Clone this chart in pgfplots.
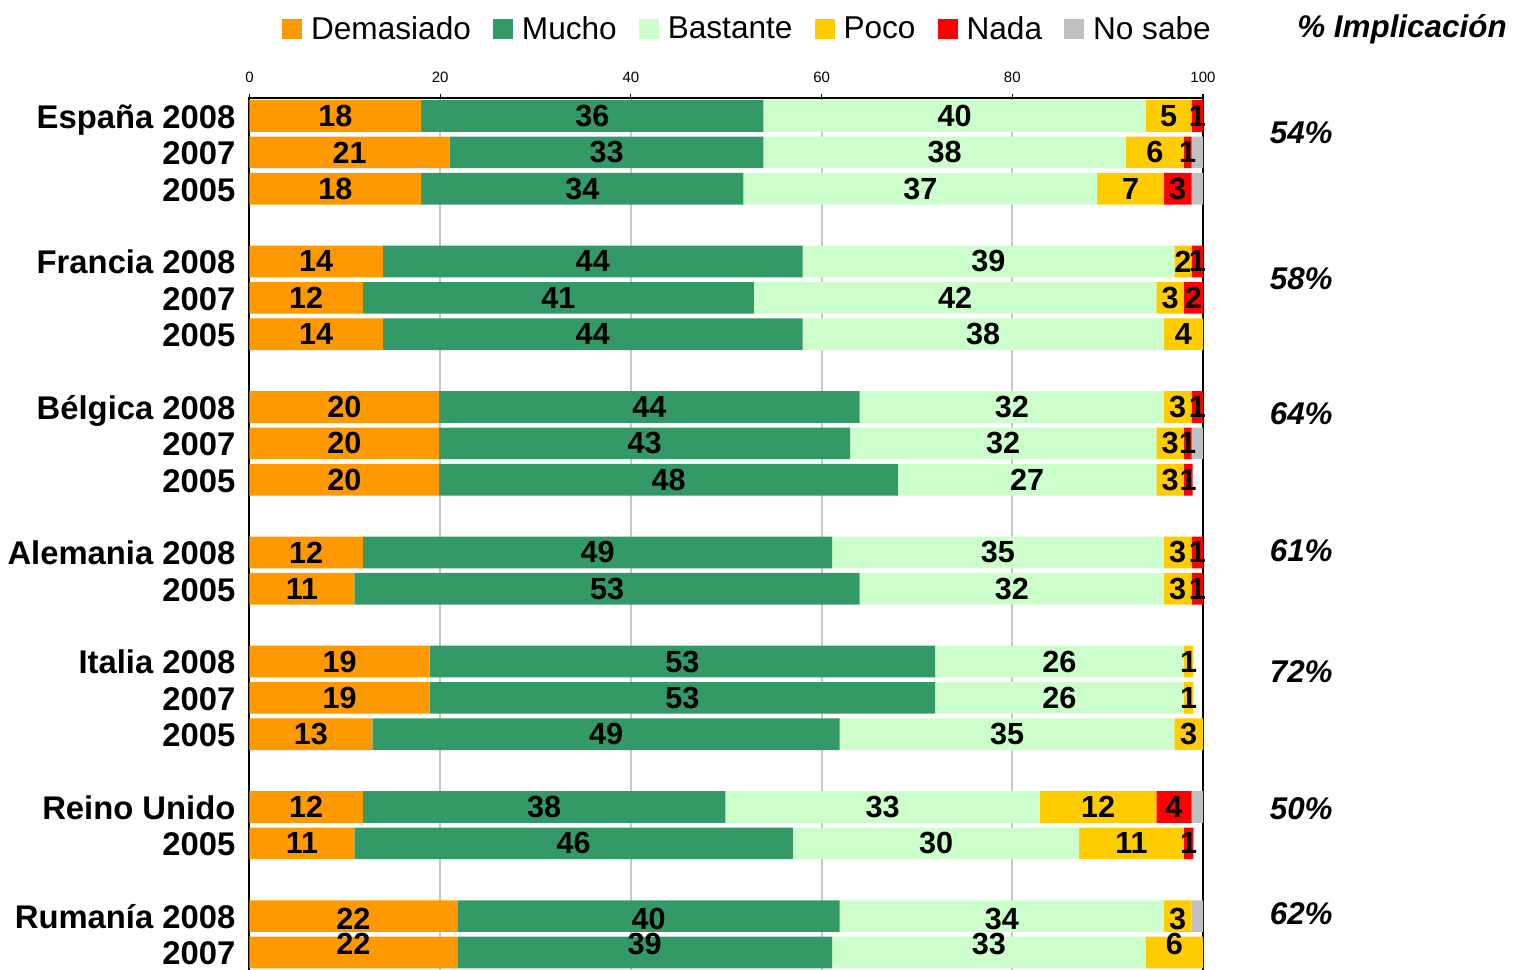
\documentclass[border=0pt]{standalone}
\usepackage{fontspec}
\setmainfont{Liberation Sans}
\usepackage{pgfplots}
\usepackage{pgfplotstable}
\pgfplotsset{compat=1.18}
\definecolor{cDem}{HTML}{FF9900}
\definecolor{cMuc}{HTML}{339966}
\definecolor{cBas}{HTML}{CCFFCC}
\definecolor{cPoc}{HTML}{FFCC00}
\definecolor{cNad}{HTML}{FF0000}
\definecolor{cNos}{HTML}{C0C0C0}

% row, then value/label for each answer
\pgfplotstableread{
row d    dl  m    ml  b    bl  p    pl  n    nl  s    sl
0   18.0 18  35.9 36  40.1 40  4.8  5   1.2  1   0    {}
1   21.0 21  32.9 33  38.0 38  6.1  6   0.8  1   1.2  {}
2   18.0 18  33.8 34  37.1 37  7.0  7   2.9  3   1.2  {}
4   14.0 14  44.0 44  39.0 39  1.8  2   1.2  1   0    {}
5   11.9 12  41.0 41  42.2 42  2.9  3   2.0  2   0    {}
6   14.0 14  44.0 44  37.9 38  4.1  4   0    {}  0    {}
8   19.9 20  44.1 44  31.9 32  2.9  3   1.2  1   0    {}
9   19.9 20  43.1 43  32.1 32  2.9  3   0.8  1   1.2  {}
10  19.9 20  48.1 48  27.1 27  2.9  3   0.9  1   0    {}
12  11.9 12  49.2 49  34.8 35  2.9  3   1.2  1   0    {}
13  11.0 11  53.0 53  31.9 32  2.9  3   1.2  1   0    {}
15  18.9 19  53.0 53  26.1 26  1.0  1   0    {}  0    {}
16  18.9 19  53.0 53  26.1 26  1.0  1   0    {}  0    {}
17  12.9 13  49.0 49  35.1 35  3.0  3   0    {}  0    {}
19  11.9 12  38.0 38  33.0 33  12.2 12  3.7  4   1.2  {}
20  11.0 11  46.0 46  30.0 30  11.0 11  1.0  1   0    {}
22  21.8 22  40.1 40  34.0 34  2.9  3   0    {}  1.2  {}
23  21.8 22  39.3 39  32.9 33  6.0  6   0    {}  0    {}
}\datatab

% % Implicacion per country
\pgfplotstableread{
x     y     lab
110.3 0.47  54
110.3 4.47  58
110.3 8.19  64
110.3 11.96 61
110.3 15.29 72
110.3 19.05 50
110.3 21.94 62
}\pcttab

\begin{document}
\begin{tikzpicture}
\useasboundingbox (-124.75pt,1.75pt) rectangle (632.75pt,486.25pt);
\begin{axis}[
  at={(0,0)}, anchor=south west,
  scale only axis,
  width=476.75pt, height=437.35pt,
  xbar stacked,
  bar width=0.87,
  xmin=0, xmax=100,
  ymin=-0.5, ymax=23.55,
  y dir=reverse,
  enlargelimits=false,
  axis line style={line width=1pt, black},
  xtick={0,20,40,60,80,100},
  xtick pos=right, xticklabel pos=right,
  tick align=outside,
  major tick length=2pt,
  xtick style={line width=0.6pt, black},
  xticklabel style={font=\fontsize{7.5}{9}\selectfont, yshift=2pt},
  /pgf/number format/assume math mode=true,
  xmajorgrids,
  major x grid style={line width=1pt, draw=black!22},
  ytick={0,1,2,4,5,6,8,9,10,12,13,15,16,17,19,20,22,23},
  yticklabels={España 2008,2007,2005,Francia 2008,2007,2005,Bélgica 2008,2007,2005,Alemania 2008,2005,Italia 2008,2007,2005,Reino Unido,2005,Rumanía 2008,2007},
  ytick style={draw=none},
  yticklabel style={font=\fontsize{16.4}{19}\selectfont\bfseries, anchor=base east, xshift=-1.5pt, yshift=-6.2pt},
  point meta=explicit symbolic,
  visualization depends on={rawy \as \rowy},
  nodes near coords={\pgfplotspointmeta},
  every node near coord/.append style={anchor=center, inner sep=0pt,
     font=\fontsize{15.3}{18}\selectfont\bfseries,
     yshift={ifthenelse(\rowy==23,4.5,ifthenelse(\rowy==22,-1.2,0))*1pt}},
  legend columns=6,
  legend style={at={(0.5212,1.0783)}, anchor=center, draw=none, fill=none,
     inner sep=0pt, font=\fontsize{15.8}{19}\selectfont, nodes={inner sep=0pt},
     /tikz/every odd column/.append style={column sep=4.5pt},
     /tikz/every even column/.append style={column sep=11pt}},
  legend image code/.code={\draw[#1,draw=none] (0pt,-5pt) rectangle (10pt,5pt);},
]
\addplot[fill=cDem, draw=none] table[x=d, y=row, meta=dl] {\datatab};
\addplot[fill=cMuc, draw=none] table[x=m, y=row, meta=ml] {\datatab};
\addplot[fill=cBas, draw=none] table[x=b, y=row, meta=bl] {\datatab};
\addplot[fill=cPoc, draw=none] table[x=p, y=row, meta=pl] {\datatab};
\addplot[fill=cNad, draw=none] table[x=n, y=row, meta=nl] {\datatab};
\addplot[fill=cNos, draw=none] table[x=s, y=row, meta=sl] {\datatab};
\legend{Demasiado,Mucho,Bastante,Poco,Nada,No sabe}
\end{axis}
\begin{axis}[
  at={(0,0)}, anchor=south west,
  scale only axis,
  width=476.75pt, height=437.35pt,
  xmin=0, xmax=100,
  ymin=-0.5, ymax=23.55,
  y dir=reverse,
  hide axis, clip=false,
]
\addplot[draw=none, mark=none, point meta=explicit symbolic,
  nodes near coords={\pgfplotspointmeta\%},
  every node near coord/.append style={anchor=center, inner sep=0pt,
     font=\fontsize{15.7}{19}\selectfont\bfseries\itshape}]
  table[x=x, y=y, meta=lab] {\pcttab};
\node[anchor=base, inner sep=0pt, font=\fontsize{15.7}{19}\selectfont\bfseries\itshape]
  at (axis description cs:1.2087,1.0686) {\% Implicación};
\end{axis}
\end{tikzpicture}
\end{document}
